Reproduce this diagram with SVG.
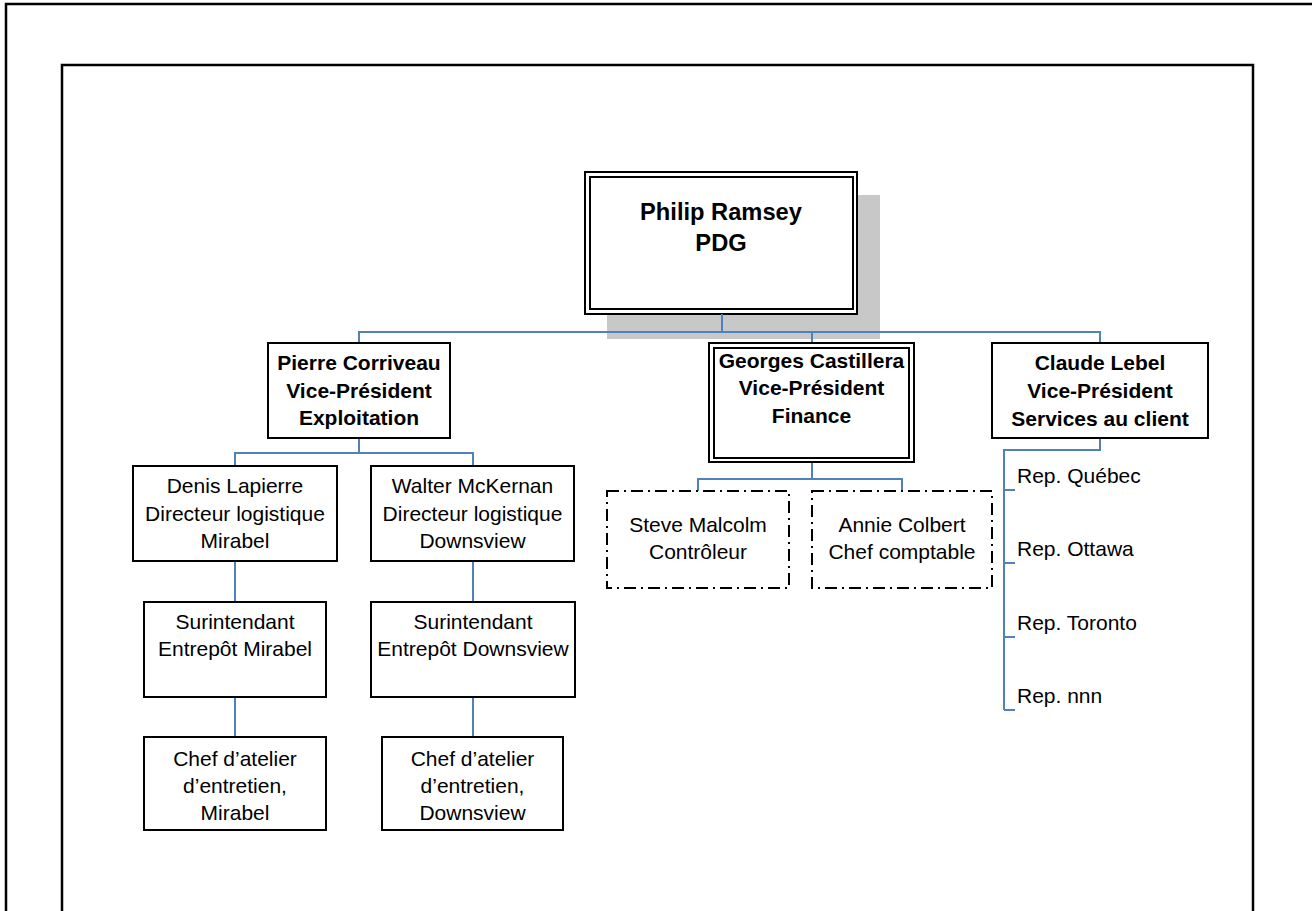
<svg xmlns="http://www.w3.org/2000/svg" width="1312" height="911" viewBox="0 0 1312 911">
<style>
.frame{fill:none;stroke:#000;stroke-width:2.5}
.box{fill:#fff;stroke:#000;stroke-width:2}
.inner{fill:none;stroke:#000;stroke-width:2}
.dash{fill:#fff;stroke:#000;stroke-width:2;stroke-dasharray:12 5 2 5}
.conn{fill:none;stroke:#4F81BD;stroke-width:2}
text{font-family:"Liberation Sans",Arial,sans-serif;font-size:21px;fill:#000}
.b{font-weight:bold}
.c{text-anchor:middle}
</style>
<rect width="1312" height="911" fill="#fff"/>
<g id="frames">
<path class="frame" d="M6,915 V4 H1316"/>
<path class="frame" d="M62,915 V65 H1253 V915"/>
</g>
<g id="ceo">
<rect x="607" y="195" width="273" height="144" fill="#c8c8c8"/>
<rect class="box" x="585" y="172" width="272" height="142"/>
<rect class="inner" x="590" y="177" width="263" height="132"/>
<text class="b c" x="721" y="220" style="font-size:23.7px">Philip Ramsey</text>
<text class="b c" x="721" y="250.5" style="font-size:23.7px">PDG</text>
</g>
<g id="connectors">
<path class="conn" d="M722,314 V332 M359,343 V332 H1100 V343 M812,332 V343"/>
<path class="conn" d="M359,438 V453 M235,466 V453 H473 V466"/>
<path class="conn" d="M235,561 V602 M473,561 V602 M235,697 V737 M473,697 V737"/>
<path class="conn" d="M812,462 V479 M698,491 V479 H902 V491"/>
<path class="conn" d="M1100,438 V450 H1004 V710 M1004,490 H1015 M1004,563 H1015 M1004,637 H1015 M1004,710 H1015"/>
</g>
<g id="vp-exploitation">
<rect class="box" x="268" y="343" width="182" height="95"/>
<text class="b c" x="359" y="370">Pierre Corriveau</text>
<text class="b c" x="359" y="397.5">Vice-Président</text>
<text class="b c" x="359" y="425">Exploitation</text>
</g>
<g id="vp-finance">
<rect class="box" x="709" y="343" width="205" height="119"/>
<rect class="inner" x="714" y="348" width="195" height="110"/>
<text class="b c" x="811.5" y="367.5">Georges Castillera</text>
<text class="b c" x="811.5" y="395">Vice-Président</text>
<text class="b c" x="811.5" y="422.5">Finance</text>
</g>
<g id="vp-services">
<rect class="box" x="992" y="343" width="216" height="95"/>
<text class="b c" x="1100" y="370">Claude Lebel</text>
<text class="b c" x="1100" y="398">Vice-Président</text>
<text class="b c" x="1100" y="426">Services au client</text>
</g>
<g id="dir-mirabel">
<rect class="box" x="133" y="466" width="204" height="95"/>
<text class="c" x="235" y="493">Denis Lapierre</text>
<text class="c" x="235" y="521">Directeur logistique</text>
<text class="c" x="235" y="548">Mirabel</text>
</g>
<g id="dir-downsview">
<rect class="box" x="371" y="466" width="203" height="95"/>
<text class="c" x="472.5" y="493">Walter McKernan</text>
<text class="c" x="472.5" y="521">Directeur logistique</text>
<text class="c" x="472.5" y="548">Downsview</text>
</g>
<g id="sur-mirabel">
<rect class="box" x="144" y="602" width="182" height="95"/>
<text class="c" x="235" y="629">Surintendant</text>
<text class="c" x="235" y="656">Entrepôt Mirabel</text>
</g>
<g id="sur-downsview">
<rect class="box" x="371" y="602" width="204" height="95"/>
<text class="c" x="473" y="629">Surintendant</text>
<text class="c" x="473" y="656">Entrepôt Downsview</text>
</g>
<g id="chef-mirabel">
<rect class="box" x="144" y="737" width="182" height="93"/>
<text class="c" x="235" y="766">Chef d’atelier</text>
<text class="c" x="235" y="793">d’entretien,</text>
<text class="c" x="235" y="820">Mirabel</text>
</g>
<g id="chef-downsview">
<rect class="box" x="382" y="737" width="181" height="93"/>
<text class="c" x="472.5" y="766">Chef d’atelier</text>
<text class="c" x="472.5" y="793">d’entretien,</text>
<text class="c" x="472.5" y="820">Downsview</text>
</g>
<g id="controleur">
<rect class="dash" x="607" y="491" width="182" height="97"/>
<text class="c" x="698" y="532">Steve Malcolm</text>
<text class="c" x="698" y="559">Contrôleur</text>
</g>
<g id="comptable">
<rect class="dash" x="812" y="491" width="180" height="97"/>
<text class="c" x="902" y="532">Annie Colbert</text>
<text class="c" x="902" y="559">Chef comptable</text>
</g>
<g id="reps">
<text x="1017" y="483">Rep. Québec</text>
<text x="1017" y="556">Rep. Ottawa</text>
<text x="1017" y="630">Rep. Toronto</text>
<text x="1017" y="703">Rep. nnn</text>
</g>
</svg>
